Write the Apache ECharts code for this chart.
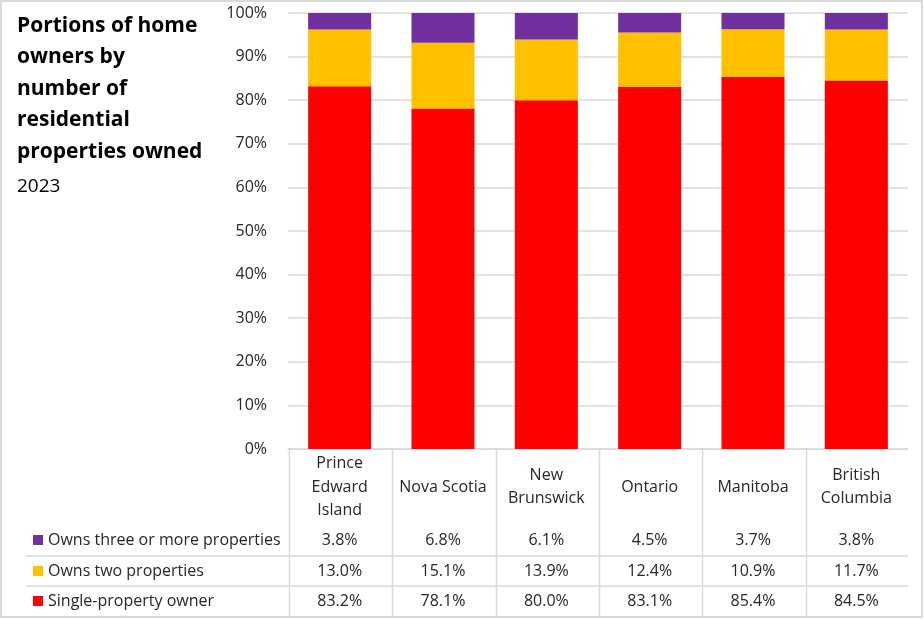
<!DOCTYPE html>
<html>
<head>
<meta charset="utf-8">
<script src="https://cdn.jsdelivr.net/npm/echarts@6/dist/echarts.min.js"></script>
<style>
html,body{margin:0;padding:0;background:#fff;}
#c{width:924px;height:619px;}
</style>
</head>
<body>
<div id="c"></div>
<script>
var categories = ['Prince\nEdward\nIsland', 'Nova Scotia', 'New\nBrunswick', 'Ontario', 'Manitoba', 'British\nColumbia'];
var single = [83.2, 78.1, 80.0, 83.1, 85.4, 84.5];
var two = [13.0, 15.1, 13.9, 12.4, 10.9, 11.7];
var threePlus = [3.8, 6.8, 6.1, 4.5, 3.7, 3.8];
var seriesNames = ['Owns three or more properties', 'Owns two properties', 'Single-property owner'];
var colors = { three: '#7030A0', two: '#FFC000', single: '#FF0000' };
var yTicks = { min: 0, max: 100, interval: 10 };

var FONT = '"Open Sans", "Noto Sans", sans-serif';
var TXT = '#262626';
var LINE = '#d9d9d9';
var FS = 16;
var GL = 288, GR = 908, GT = 13, GB = 449;

function fmt(v) { return v.toFixed(1) + '%'; }

function rowAxis(data, margin) {
  return {
    type: 'category', gridIndex: 0, position: 'bottom', data: data.map(fmt),
    axisLine: { show: false }, axisTick: { show: false }, splitLine: { show: false },
    axisLabel: { interval: 0, margin: margin, verticalAlign: 'middle', fontSize: FS, color: TXT, fontFamily: FONT }
  };
}

var chart = echarts.init(document.getElementById('c'), null, { renderer: 'canvas' });

var graphics = [];
graphics.push({ type: 'rect', shape: { x: 1, y: 1, width: 921, height: 616 }, style: { fill: 'none', stroke: LINE, lineWidth: 2 }, silent: true });
[556, 586].forEach(function (y) {
  graphics.push({ type: 'line', shape: { x1: 26, y1: y, x2: GR, y2: y }, style: { stroke: LINE, lineWidth: 1.5 }, silent: true });
});
var band = (GR - GL) / categories.length;
for (var k = 0; k < categories.length; k++) {
  var x = Math.round(GL + 1 + k * band) + 0.5;
  graphics.push({ type: 'line', shape: { x1: x, y1: GB, x2: x, y2: 617 }, style: { stroke: LINE, lineWidth: 1.5 }, silent: true });
}
var keyRows = [
  { name: seriesNames[0], color: colors.three, y: 540 },
  { name: seriesNames[1], color: colors.two, y: 571 },
  { name: seriesNames[2], color: colors.single, y: 601 }
];
keyRows.forEach(function (r) {
  graphics.push({ type: 'rect', shape: { x: 33, y: r.y - 5, width: 10, height: 10 }, style: { fill: r.color }, silent: true });
  graphics.push({ type: 'text', x: 48, y: r.y, style: { text: r.name, fontSize: FS, fontFamily: FONT, fill: TXT, verticalAlign: 'middle', align: 'left' }, silent: true });
});

var option = {
  animation: false,
  backgroundColor: '#fff',
  title: {
    left: 17, top: 10, padding: 0, itemGap: 6,
    text: 'Portions of home\nowners by\nnumber of\nresidential\nproperties owned',
    subtext: '2023',
    textStyle: { fontFamily: FONT, fontSize: 21, fontWeight: 'bold', color: '#000', lineHeight: 31.5 },
    subtextStyle: { fontFamily: FONT, fontSize: 19, color: '#000', lineHeight: 26 }
  },
  grid: { left: GL, right: 924 - GR, top: GT, bottom: 619 - GB, containLabel: false },
  xAxis: [
    {
      type: 'category', gridIndex: 0, position: 'bottom', data: categories,
      axisLine: { show: true, lineStyle: { color: LINE, width: 1.5 } },
      axisTick: { show: false },
      axisLabel: { interval: 0, margin: 38, verticalAlign: 'middle', lineHeight: 23.5, fontSize: FS, color: TXT, fontFamily: FONT }
    },
    rowAxis(threePlus, 91),
    rowAxis(two, 122),
    rowAxis(single, 152)
  ],
  yAxis: {
    type: 'value', min: yTicks.min, max: yTicks.max, interval: yTicks.interval,
    axisLine: { show: false }, axisTick: { show: false },
    axisLabel: { formatter: '{value}%', fontSize: FS, color: TXT, fontFamily: FONT, margin: 21 },
    splitLine: { lineStyle: { color: LINE, width: 1.5 } }
  },
  series: [
    { name: seriesNames[2], type: 'bar', stack: 'all', data: single, itemStyle: { color: colors.single }, barCategoryGap: '39%' },
    { name: seriesNames[1], type: 'bar', stack: 'all', data: two, itemStyle: { color: colors.two } },
    { name: seriesNames[0], type: 'bar', stack: 'all', data: threePlus, itemStyle: { color: colors.three } }
  ],
  graphic: graphics
};
chart.setOption(option);
</script>
</body>
</html>
